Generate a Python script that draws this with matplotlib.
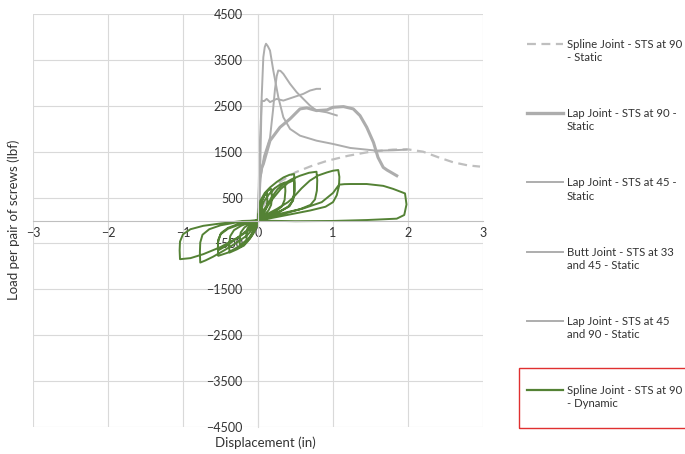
import matplotlib
matplotlib.use("Agg")
import matplotlib.pyplot as plt
from matplotlib.lines import Line2D
from matplotlib.patches import Rectangle

plt.rcParams['font.family'] = ['Lato', 'DejaVu Sans']

# --- static tests (displacement in, load lbf) ---
spline_static_x = [0, 0.05, 0.15, 0.3, 0.5, 0.7, 0.92, 1.2, 1.5, 1.8, 2.0, 2.2, 2.4, 2.6, 2.8, 2.96]
spline_static_y = [0, 250, 550, 850, 1050, 1180, 1300, 1410, 1500, 1545, 1550, 1500, 1380, 1270, 1200, 1175]

lap90_x = [0, 0.027, 0.05, 0.071, 0.1, 0.16, 0.293, 0.427, 0.56, 0.65, 0.78, 0.92, 1.0, 1.14,
           1.27, 1.36, 1.45, 1.54, 1.6, 1.67, 1.72, 1.85]
lap90_y = [0, 939, 1150, 1231, 1400, 1740, 2031, 2214, 2432, 2454, 2395, 2410, 2467, 2482,
           2432, 2286, 2031, 1700, 1375, 1157, 1100, 976]

lap45_x = [0, 0.027, 0.049, 0.071, 0.09, 0.107, 0.13, 0.16, 0.204, 0.271, 0.338, 0.427, 0.56,
           0.78, 1.0, 1.23, 1.36, 1.58, 1.8, 1.98]
lap45_y = [0, 939, 2686, 3559, 3780, 3852, 3800, 3705, 3269, 2686, 2249, 1996, 1849,
           1740, 1668, 1581, 1559, 1522, 1530, 1545]

butt_x = [0, 0.03, 0.08, 0.16, 0.2, 0.227, 0.25, 0.27, 0.3, 0.338, 0.427, 0.516, 0.604, 0.693,
          0.78, 0.916, 1.05]
butt_y = [0, 900, 1400, 1800, 2400, 2869, 3150, 3269, 3260, 3196, 2978, 2795, 2650, 2504,
          2395, 2358, 2290]

lap4590_x = [0, 0.02, 0.049, 0.08, 0.116, 0.16, 0.249, 0.338, 0.471, 0.604, 0.693, 0.78, 0.827]
lap4590_y = [0, 1500, 2613, 2600, 2650, 2580, 2650, 2613, 2686, 2759, 2832, 2869, 2869]

# --- dynamic (cyclic) test, one list per cycle ---
cycle1_x = [0, 0.015, 0.035, 0.05, 0.055, 0.04, 0.01, -0.015, -0.035, -0.06, -0.065, -0.045, -0.015, 0]
cycle1_y = [0, 200, 320, 360, 220, 100, 20, -100, -200, -260, -150, -70, -20, 0]

cycle1b_x = [0, 0.02, 0.05, 0.09, 0.12, 0.125, 0.11, 0.07, 0.02, -0.02, -0.06, -0.11, -0.15,
             -0.155, -0.14, -0.09, -0.03, 0]
cycle1b_y = [0, 260, 430, 550, 600, 420, 260, 140, 40, -120, -280, -400, -450,
             -300, -170, -80, -20, 0]

cycle2_x = [0, 0.02, 0.05, 0.09, 0.14, 0.18, 0.185, 0.175, 0.14, 0.08, 0.02, -0.03, -0.08,
            -0.14, -0.19, -0.24, -0.245, -0.23, -0.18, -0.1, 0]
cycle2_y = [0, 250, 430, 570, 660, 685, 500, 340, 220, 110, 30, -150, -320,
            -460, -550, -590, -420, -260, -150, -60, 0]

cycle3_x = [0, 0.03, 0.08, 0.15, 0.22, 0.3, 0.36, 0.365, 0.355, 0.32, 0.24, 0.12, 0, -0.04,
            -0.1, -0.18, -0.27, -0.38, -0.385, -0.37, -0.32, -0.22, -0.1, 0]
cycle3_y = [0, 220, 420, 580, 700, 790, 830, 640, 450, 310, 200, 100, 10, -180,
            -350, -500, -620, -700, -520, -340, -210, -110, -40, 0]

cycle4_x = [0, 0.01, 0.03, 0.09, 0.16, 0.25, 0.34, 0.42, 0.48, 0.49, 0.485, 0.46, 0.4, 0.28,
            0.12, 0, -0.04, -0.12, -0.25, -0.4, -0.53, -0.535, -0.53, -0.49, -0.4, -0.27, -0.1, 0]
cycle4_y = [0, 250, 430, 600, 720, 840, 939, 995, 1013, 820, 600, 420, 300, 190,
            80, 10, -180, -380, -560, -700, -770, -600, -420, -270, -160, -80, -25, 0]

cycle4b_x = [0, 0.1, 0.2, 0.3, 0.4, 0.48, 0.485, 0.47, 0.42, 0.3, 0.12, 0, -0.1, -0.25, -0.4,
             -0.53, -0.535, -0.5, -0.4, -0.25, -0.1, 0]
cycle4b_y = [0, 250, 480, 680, 820, 880, 650, 450, 310, 200, 80, 10, -150, -350, -530,
             -650, -480, -300, -180, -90, -25, 0]

cycle5_x = [0, 0.05, 0.12, 0.18, 0.26, 0.34, 0.45, 0.56, 0.68, 0.78, 0.79, 0.785, 0.76, 0.7,
            0.55, 0.35, 0.12, 0, -0.05, -0.15, -0.3, -0.45, -0.6, -0.7, -0.77, -0.775, -0.77,
            -0.74, -0.65, -0.5, -0.3, -0.1, 0]
cycle5_y = [0, 180, 330, 502, 680, 795, 900, 976, 1040, 1063, 880, 650, 460, 340,
            240, 150, 50, 0, -150, -330, -500, -650, -790, -870, -917, -700, -480,
            -310, -190, -105, -45, -10, 0]

cycle6_x = [0, 0.1, 0.25, 0.4, 0.47, 0.58, 0.69, 0.8, 0.92, 1.0, 1.07, 1.085, 1.08, 1.05, 1.0,
            0.9, 0.7, 0.45, 0.2, 0, -0.06, -0.28, -0.5, -0.73, -0.9, -1.04, -1.045, -1.04,
            -1.0, -0.9, -0.73, -0.5, -0.2, 0]
cycle6_y = [0, 120, 250, 400, 502, 700, 867, 980, 1048, 1085, 1100, 950, 750, 550, 400,
            300, 220, 140, 60, 0, -150, -380, -580, -734, -820, -843, -650, -460,
            -300, -190, -116, -65, -10, 0]

cycle7_x = [0, 0.3, 0.6, 0.85, 1.0, 1.08, 1.15, 1.23, 1.45, 1.67, 1.8, 1.96, 1.98, 1.95, 1.85,
            1.45, 1.0, 0.5, 0.1, 0]
cycle7_y = [0, 150, 260, 400, 600, 780, 792, 795, 795, 755, 690, 590, 350, 120, 40,
            10, -10, -15, -5, 0]

dyn_cycles = [(cycle1_x, cycle1_y), (cycle1b_x, cycle1b_y), (cycle2_x, cycle2_y),
              (cycle3_x, cycle3_y), (cycle4_x, cycle4_y), (cycle4b_x, cycle4b_y),
              (cycle5_x, cycle5_y), (cycle6_x, cycle6_y), (cycle7_x, cycle7_y)]

labels = ["Spline Joint - STS at 90\n- Static", "Lap Joint - STS at 90 -\nStatic",
          "Lap Joint - STS at 45 -\nStatic", "Butt Joint - STS at 33\nand 45 - Static",
          "Lap Joint - STS at 45\nand 90 - Static", "Spline Joint - STS at 90\n- Dynamic"]

gray = "#ADADAD"
green = "#548235"

fig = plt.figure(figsize=(6.85, 4.54), dpi=100)
ax = fig.add_axes([33 / 685, 27 / 454, 450 / 685, 413 / 454])

ax.plot(spline_static_x, spline_static_y, color="#BFBFBF", lw=1.6, ls=(0, (4, 2.5)))
ax.plot(lap90_x, lap90_y, color=gray, lw=2.2)
ax.plot(lap45_x, lap45_y, color=gray, lw=1.4)
ax.plot(butt_x, butt_y, color=gray, lw=1.4)
ax.plot(lap4590_x, lap4590_y, color=gray, lw=1.4)

dyn_x = []
dyn_y = []
for cx, cy in dyn_cycles:
    dyn_x += cx
    dyn_y += cy
ax.plot(dyn_x, dyn_y, color=green, lw=1.4)

ax.set_xlim(-3, 3)
ax.set_ylim(-4500, 4500)
ax.set_xticks([-3, -2, -1, 0, 1, 2, 3])
ax.set_yticks(list(range(-4500, 4501, 1000)))
ax.grid(True, color="#D9D9D9", lw=0.8)
ax.set_axisbelow(True)

for s in ["top", "right"]:
    ax.spines[s].set_visible(False)
ax.spines["left"].set_position(("data", 0))
ax.spines["bottom"].set_position(("data", 0))
ax.spines["left"].set_color("#D9D9D9")
ax.spines["bottom"].set_color("#BFBFBF")
ax.tick_params(axis="both", length=0, labelsize=9, colors="#333333")
ax.tick_params(axis="y", pad=11)
ax.tick_params(axis="x", pad=5)

fig.text(265 / 685, 1 - 443 / 454, "Displacement (in)", ha="center", va="center",
         fontsize=9.5, color="#333333")
fig.text(14 / 685, 1 - 220 / 454, "Load per pair of screws (lbf)", ha="center", va="center",
         rotation=90, fontsize=9.5, color="#333333")

# legend drawn by hand so the handle sits on the first text line
styles = [dict(color="#BFBFBF", lw=1.6, ls=(0, (4, 2.5))), dict(color=gray, lw=2.4),
          dict(color=gray, lw=1.4), dict(color=gray, lw=1.4), dict(color=gray, lw=1.4),
          dict(color=green, lw=1.6)]
for i, (lab, st) in enumerate(zip(labels, styles)):
    ypix = 44 + i * 69.2
    yf = 1 - ypix / 454
    fig.add_artist(Line2D([527 / 685, 563 / 685], [yf, yf], **st))
    fig.text(567 / 685, yf + 5 / 454, lab, ha="left", va="top", fontsize=8.2,
             color="#333333", linespacing=1.25)

fig.add_artist(Rectangle((519 / 685, 1 - 428 / 454), 200 / 685, 60 / 454, fill=False,
                         edgecolor="#E03030", lw=1.0))

plt.savefig("out.png", dpi=100)
